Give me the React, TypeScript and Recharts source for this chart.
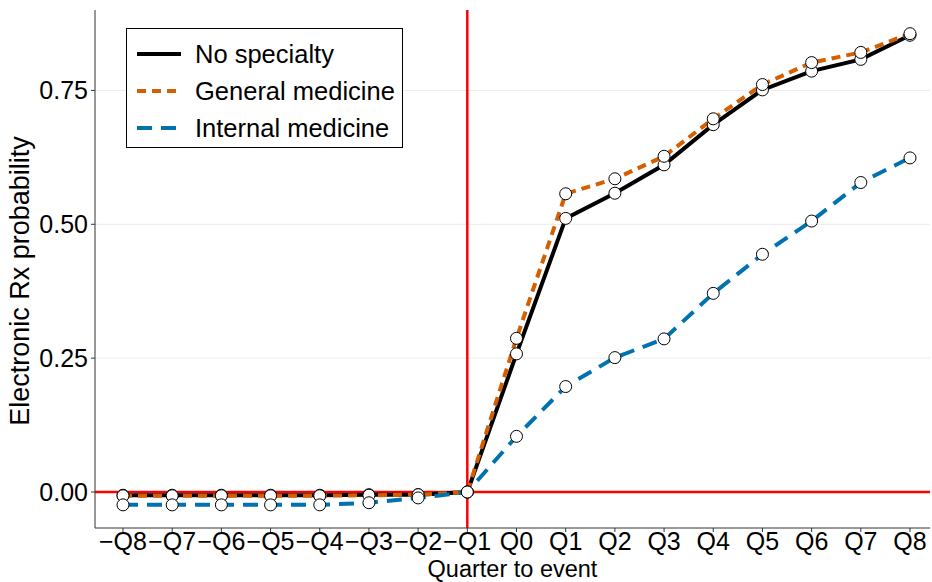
import React from 'react'
import { CartesianGrid, Label, Line, LineChart, ReferenceLine, XAxis, YAxis } from 'recharts'

// quarters relative to the adoption event
const quarters = [
  '−Q8', '−Q7', '−Q6', '−Q5', '−Q4', '−Q3', '−Q2', '−Q1',
  'Q0', 'Q1', 'Q2', 'Q3', 'Q4', 'Q5', 'Q6', 'Q7', 'Q8',
]

const noSpecialty = [
  -0.006, -0.006, -0.006, -0.006, -0.006, -0.005, -0.005, 0,
  0.258, 0.511, 0.558, 0.611, 0.686, 0.751, 0.786, 0.808, 0.853,
]
const generalMedicine = [
  -0.007, -0.007, -0.007, -0.007, -0.007, -0.006, -0.005, 0,
  0.287, 0.557, 0.585, 0.627, 0.697, 0.761, 0.802, 0.821, 0.856,
]
const internalMedicine = [
  -0.024, -0.024, -0.024, -0.024, -0.024, -0.02, -0.011, 0,
  0.104, 0.197, 0.251, 0.286, 0.371, 0.444, 0.506, 0.578, 0.624,
]

const yTicks = [0, 0.25, 0.5, 0.75]

const series = [
  { key: 'none', name: 'No specialty', color: '#000000', dash: undefined as string | undefined },
  { key: 'general', name: 'General medicine', color: '#D55E00', dash: '9 6' },
  { key: 'internal', name: 'Internal medicine', color: '#0072B2', dash: '15 9' },
]

const data = quarters.map((q, i) => ({
  quarter: q,
  none: noSpecialty[i],
  general: generalMedicine[i],
  internal: internalMedicine[i],
}))

const FONT = '"Liberation Sans", Arial, Helvetica, sans-serif'
const tickStyle = { fill: '#000', fontSize: 25, fontFamily: FONT }

function YTitle() {
  return (
    <text
      transform="translate(29, 281) rotate(-90)"
      textAnchor="middle"
      fontSize={27}
      fontFamily={FONT}
      fill="#000"
    >
      Electronic Rx probability
    </text>
  )
}

function LegendBox() {
  return (
    <div
      style={{
        position: 'absolute',
        left: 126,
        top: 28,
        width: 275,
        height: 118,
        border: '1px solid #000',
        background: '#fff',
        fontFamily: FONT,
        fontSize: 25.5,
        color: '#000',
        boxSizing: 'content-box',
      }}
    >
      {series.map((s, i) => (
        <div
          key={s.key}
          style={{ position: 'absolute', left: 9, top: 9 + i * 37, height: 32, display: 'flex', alignItems: 'center' }}
        >
          <svg width={46} height={10} style={{ display: 'block' }}>
            <line x1={1} y1={5} x2={45} y2={5} stroke={s.color} strokeWidth={4} strokeDasharray={s.dash} />
          </svg>
          <span style={{ marginLeft: 13, lineHeight: '32px' }}>{s.name}</span>
        </div>
      ))}
    </div>
  )
}

export default function App() {
  return (
    <div style={{ position: 'absolute', left: 0, top: 0, width: 932, height: 582, background: '#fff' }}>
      <LineChart width={932} height={582} data={data} margin={{ top: 10, right: 2, bottom: 0, left: 0 }}>
        <CartesianGrid vertical={false} horizontalValues={yTicks} stroke="#ebebeb" strokeWidth={1} />
        <XAxis
          dataKey="quarter"
          interval={0}
          height={54}
          padding={{ left: 28, right: 20 }}
          tick={tickStyle}
          tickSize={4}
          tickMargin={0}
          stroke="#333"
          tickLine={{ stroke: '#333' }}
        >
          <Label
            value="Quarter to event"
            position="insideBottom"
            offset={5.5}
            style={{ fontSize: 23.5, fontFamily: FONT, fill: '#000' }}
          />
        </XAxis>
        <YAxis
          type="number"
          domain={[-0.0672, 0.9002]}
          allowDataOverflow
          ticks={yTicks}
          tickFormatter={(v: number) => v.toFixed(2)}
          width={95}
          tick={tickStyle}
          tickSize={4}
          tickMargin={3}
          stroke="#333"
          label={<YTitle />}
        />
        <ReferenceLine y={0} stroke="#ff0000" strokeWidth={2.5} />
        <ReferenceLine x="−Q1" stroke="#ff0000" strokeWidth={2.5} />
        {series.map((s) => (
          <Line
            key={s.key}
            dataKey={s.key}
            stroke={s.color}
            strokeWidth={4}
            strokeDasharray={s.dash}
            dot={false}
            activeDot={false}
            isAnimationActive={false}
          />
        ))}
        {series.map((s) => (
          <Line
            key={`${s.key}-pts`}
            dataKey={s.key}
            stroke="none"
            dot={{ r: 6, fill: '#fff', stroke: '#000', strokeWidth: 1 }}
            activeDot={false}
            isAnimationActive={false}
          />
        ))}
      </LineChart>
      <LegendBox />
    </div>
  )
}
